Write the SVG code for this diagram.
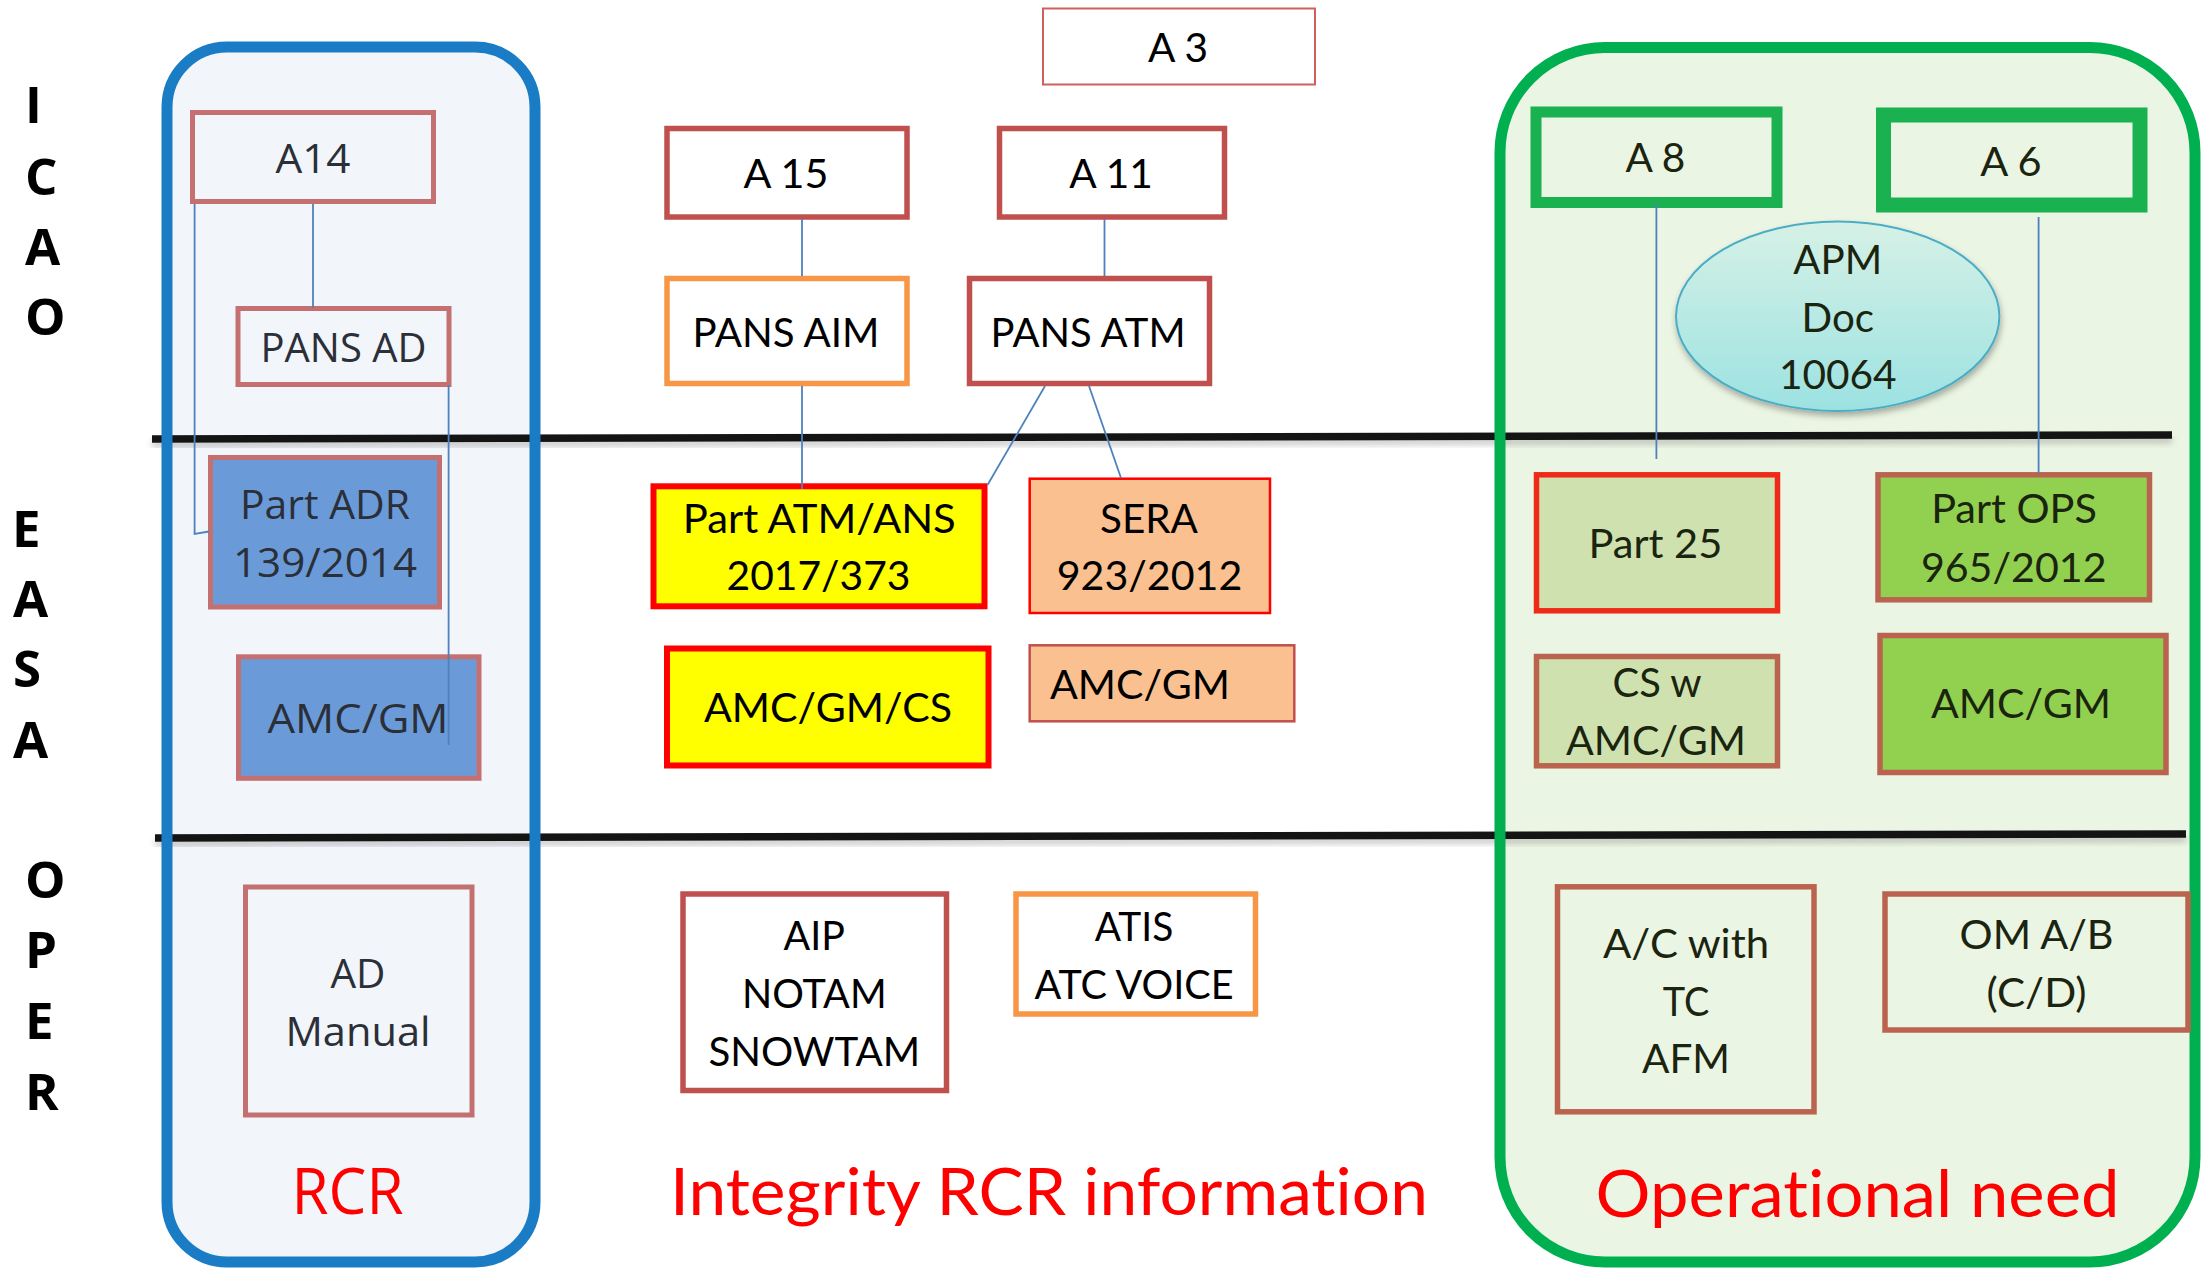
<svg xmlns="http://www.w3.org/2000/svg" width="2204" height="1268" viewBox="0 0 2204 1268">
<style>
text{font-variant-ligatures:none;font-feature-settings:"liga" 0,"clig" 0,"dlig" 0}
.lt{font-family:"Open Sans","DejaVu Sans",sans-serif;font-size:41px;fill:#2B2F38;text-anchor:middle}
.ct{font-family:Lato,"Liberation Sans",sans-serif;font-size:40px;fill:#000;text-anchor:middle}
.gt{font-family:Lato,"Liberation Sans",sans-serif;font-size:40px;fill:#1A240F;text-anchor:middle}
.side{font-family:"Open Sans","DejaVu Sans",sans-serif;font-weight:bold;font-size:51px;fill:#000}
.red{font-size:65px;fill:#FF0000}
.conn{stroke:#4F81BD;stroke-width:1.8;fill:none}
.lbox{fill:none;stroke:#C47070;stroke-width:5}
.mred{fill:#fff;stroke:#C0504D;stroke-width:5.5}
.orng{fill:#fff;stroke:#F79646;stroke-width:5.5}
.brn{stroke:#BA6450;stroke-width:5.5}
.sep{stroke:#141414;stroke-width:7.5}
.sepsh{stroke:#888;stroke-width:6;opacity:0.5}
</style>
<defs>
<linearGradient id="apmg" x1="0" y1="0" x2="0" y2="1">
<stop offset="0" stop-color="#D6F1E6"/>
<stop offset="1" stop-color="#9CE2E2"/>
</linearGradient>
<filter id="blur" x="-5%" y="-100%" width="110%" height="300%"><feGaussianBlur stdDeviation="3"/></filter>
<filter id="drop" x="-20%" y="-20%" width="140%" height="150%"><feDropShadow dx="1" dy="4" stdDeviation="3" flood-color="#000" flood-opacity="0.3"/></filter>
</defs>
<rect width="2204" height="1268" fill="#fff"/>

<g id="rcr-panel-fill">
<rect x="167" y="47" width="368" height="1215" rx="60" fill="#F2F5FA"/>
</g>
<g id="operational-panel-fill">
<rect x="1500" y="47.5" width="695" height="1214.5" rx="105" fill="#EBF5E3"/>
</g>

<g id="separators">
<line class="sepsh" x1="152" y1="444" x2="2172" y2="440" filter="url(#blur)"/>
<line class="sepsh" x1="155" y1="843" x2="2186" y2="839" filter="url(#blur)"/>
<line class="sep" x1="152" y1="439" x2="2172" y2="435"/>
<line class="sep" x1="155" y1="838" x2="2186" y2="834"/>
</g>

<g id="rcr-panel-border">
<rect x="167" y="47" width="368" height="1215" rx="60" fill="none" stroke="#1A7CC5" stroke-width="11"/>
</g>
<g id="operational-panel-border">
<rect x="1500" y="47.5" width="695" height="1214.5" rx="105" fill="none" stroke="#00B050" stroke-width="11"/>
</g>

<g id="side-labels">
<text class="side" x="25" y="123">I</text>
<text class="side" x="25" y="195">C</text>
<text class="side" x="25" y="265">A</text>
<text class="side" x="25" y="335">O</text>
<text class="side" x="12" y="547">E</text>
<text class="side" x="13" y="617">A</text>
<text class="side" x="13" y="687">S</text>
<text class="side" x="13" y="758">A</text>
<text class="side" x="25" y="898">O</text>
<text class="side" x="25" y="968">P</text>
<text class="side" x="25" y="1039">E</text>
<text class="side" x="25" y="1110">R</text>
</g>

<g id="a14"><rect class="lbox" x="192.5" y="112.5" width="241" height="89"/><text class="lt" x="313" y="173" textLength="75" lengthAdjust="spacingAndGlyphs">A14</text></g>
<g id="pans-ad"><rect class="lbox" x="238" y="308.5" width="211" height="76"/><text class="lt" x="343.5" y="362" textLength="166" lengthAdjust="spacingAndGlyphs">PANS AD</text></g>
<g id="part-adr"><rect class="lbox" x="210.5" y="457.5" width="229" height="149.5" style="fill:#6A9BD8"/><text class="lt" x="325" y="519.3" textLength="170" lengthAdjust="spacingAndGlyphs">Part ADR</text><text class="lt" x="325" y="576.7" textLength="184" lengthAdjust="spacingAndGlyphs">139/2014</text></g>
<g id="adr-amc-gm"><rect class="lbox" x="238.5" y="656.8" width="240.5" height="121.5" style="fill:#6A9BD8"/><text class="lt" x="358" y="733.3" textLength="181" lengthAdjust="spacingAndGlyphs">AMC/GM</text></g>
<g id="ad-manual"><rect class="lbox" x="245.5" y="887" width="226.5" height="228"/><text class="lt" x="358" y="988.3" textLength="55" lengthAdjust="spacingAndGlyphs">AD</text><text class="lt" x="358" y="1046" textLength="145" lengthAdjust="spacingAndGlyphs">Manual</text></g>
<g id="rcr-title"><text class="lt" x="347.5" y="1214" style="font-size:64px;fill:#FF0000" textLength="112" lengthAdjust="spacingAndGlyphs">RCR</text></g>

<g id="a3"><rect x="1043" y="8.5" width="272" height="76" fill="#fff" stroke="#D0605C" stroke-width="2"/><text class="ct" x="1178" y="61.7" style="font-size:41px" textLength="60" lengthAdjust="spacingAndGlyphs">A 3</text></g>
<g id="a15"><rect class="mred" x="667" y="128.5" width="240" height="88.5"/><text class="ct" x="786" y="187.7" textLength="85" lengthAdjust="spacingAndGlyphs">A 15</text></g>
<g id="a11"><rect class="mred" x="999.5" y="128.5" width="225" height="88.5"/><text class="ct" x="1111" y="187.7" textLength="83.6" lengthAdjust="spacingAndGlyphs">A 11</text></g>
<g id="pans-aim"><rect class="orng" x="667" y="278.5" width="240" height="105"/><text class="ct" x="786" y="346.7" textLength="187" lengthAdjust="spacingAndGlyphs">PANS AIM</text></g>
<g id="pans-atm"><rect class="mred" x="969.5" y="278.5" width="240" height="105"/><text class="ct" x="1088" y="346.7" textLength="195" lengthAdjust="spacingAndGlyphs">PANS ATM</text></g>
<g id="part-atm-ans"><rect x="653.5" y="486.3" width="331" height="120" fill="#FFFF00" stroke="#FF0000" stroke-width="6"/><text class="ct" x="819.3" y="533.3" textLength="273" lengthAdjust="spacingAndGlyphs">Part ATM/ANS</text><text class="ct" x="818.5" y="590" textLength="184" lengthAdjust="spacingAndGlyphs">2017/373</text></g>
<g id="sera"><rect x="1029.7" y="478.7" width="240.3" height="134.3" fill="#FAC090" stroke="#FF0000" stroke-width="2.5"/><text class="ct" x="1149" y="532.7" textLength="98" lengthAdjust="spacingAndGlyphs">SERA</text><text class="ct" x="1149.5" y="590" textLength="185.6" lengthAdjust="spacingAndGlyphs">923/2012</text></g>
<g id="amc-gm-cs"><rect x="667" y="648.5" width="321.5" height="117" fill="#FFFF00" stroke="#FF0000" stroke-width="6"/><text class="ct" x="828" y="721.7" textLength="248" lengthAdjust="spacingAndGlyphs">AMC/GM/CS</text></g>
<g id="sera-amc-gm"><rect x="1029.7" y="645.3" width="264.6" height="76" fill="#FAC090" stroke="#C0504D" stroke-width="2.5"/><text class="ct" x="1140" y="699.3" textLength="180" lengthAdjust="spacingAndGlyphs">AMC/GM</text></g>
<g id="aip-notam"><rect class="mred" x="683" y="894" width="263.5" height="196.5"/><text class="ct" x="814.3" y="950" textLength="61.4" lengthAdjust="spacingAndGlyphs">AIP</text><text class="ct" x="814.3" y="1007.7" textLength="144.7" lengthAdjust="spacingAndGlyphs">NOTAM</text><text class="ct" x="814.3" y="1065.7" textLength="211.8" lengthAdjust="spacingAndGlyphs">SNOWTAM</text></g>
<g id="atis"><rect class="orng" x="1016" y="894" width="239.5" height="120"/><text class="ct" x="1134" y="941" textLength="78.6" lengthAdjust="spacingAndGlyphs">ATIS</text><text class="ct" x="1134" y="999.3" textLength="199.2" lengthAdjust="spacingAndGlyphs">ATC VOICE</text></g>
<g id="integrity-title"><text class="ct red" x="1049" y="1215" textLength="758" lengthAdjust="spacingAndGlyphs">Integrity RCR information</text></g>

<g id="a8"><rect x="1536" y="112" width="241" height="90.5" fill="none" stroke="#1AB150" stroke-width="11"/><text class="gt" x="1655.4" y="172.3" textLength="60" lengthAdjust="spacingAndGlyphs">A 8</text></g>
<g id="a6"><rect x="1883.5" y="115" width="256.5" height="90" fill="none" stroke="#1AB150" stroke-width="15"/><text class="gt" x="2011" y="175.7" textLength="61.4" lengthAdjust="spacingAndGlyphs">A 6</text></g>
<g id="apm-doc"><ellipse cx="1837.7" cy="316.3" rx="161.7" ry="94.7" fill="url(#apmg)" stroke="#4BACC6" stroke-width="2" filter="url(#drop)"/><text class="gt" x="1837.8" y="274.3" textLength="89" lengthAdjust="spacingAndGlyphs">APM</text><text class="gt" x="1837.8" y="332.3" textLength="72.5" lengthAdjust="spacingAndGlyphs">Doc</text><text class="gt" x="1837.8" y="389.3" textLength="117.7" lengthAdjust="spacingAndGlyphs">10064</text></g>
<g id="part-25"><rect x="1536.5" y="474.8" width="241" height="136" fill="#CFE1AE" stroke="#EE2A1A" stroke-width="5.5"/><text class="gt" x="1655.4" y="558.3" textLength="134" lengthAdjust="spacingAndGlyphs">Part 25</text></g>
<g id="part-ops"><rect class="brn" x="1878" y="474.8" width="271.5" height="125" fill="#92D050"/><text class="gt" x="2014" y="522.7" textLength="165.7" lengthAdjust="spacingAndGlyphs">Part OPS</text><text class="gt" x="2013.7" y="581.7" textLength="185.6" lengthAdjust="spacingAndGlyphs">965/2012</text></g>
<g id="cs-amc-gm"><rect class="brn" x="1536.5" y="656.5" width="241" height="109.3" fill="#CFE1AE"/><text class="gt" x="1657" y="697.3" textLength="89" lengthAdjust="spacingAndGlyphs">CS w</text><text class="gt" x="1656" y="755" textLength="180" lengthAdjust="spacingAndGlyphs">AMC/GM</text></g>
<g id="ops-amc-gm"><rect class="brn" x="1880" y="635.5" width="286" height="137" fill="#92D050"/><text class="gt" x="2021" y="718.3" textLength="180" lengthAdjust="spacingAndGlyphs">AMC/GM</text></g>
<g id="ac-tc-afm"><rect class="brn" x="1557.5" y="886.8" width="256.5" height="225" fill="none"/><text class="gt" x="1686" y="957.7" textLength="166" lengthAdjust="spacingAndGlyphs">A/C with</text><text class="gt" x="1686" y="1015.7" textLength="46.5" lengthAdjust="spacingAndGlyphs">TC</text><text class="gt" x="1686" y="1072.7" textLength="88" lengthAdjust="spacingAndGlyphs">AFM</text></g>
<g id="om-ab"><rect class="brn" x="1885" y="894" width="303" height="136" fill="none"/><text class="gt" x="2036.6" y="949.3" textLength="154" lengthAdjust="spacingAndGlyphs">OM A/B</text><text class="gt" x="2036.6" y="1006.7" textLength="100" lengthAdjust="spacingAndGlyphs">(C/D)</text></g>
<g id="operational-title"><text class="ct red" x="1857.6" y="1216.7" textLength="524" lengthAdjust="spacingAndGlyphs">Operational need</text></g>

<g id="connectors">
<line class="conn" x1="313" y1="204" x2="313" y2="308"/>
<polyline class="conn" points="194.6,204 194.6,534 209,531.5"/>
<line class="conn" x1="448.6" y1="385" x2="448.6" y2="745"/>
<line class="conn" x1="802" y1="219" x2="802" y2="276"/>
<line class="conn" x1="802" y1="386" x2="802" y2="489"/>
<line class="conn" x1="1104.5" y1="219" x2="1104.5" y2="276"/>
<line class="conn" x1="1045" y1="386" x2="987.5" y2="485"/>
<line class="conn" x1="1089" y1="386" x2="1121" y2="478"/>
<line class="conn" x1="1656.4" y1="203" x2="1656.4" y2="459"/>
<line class="conn" x1="2038.6" y1="217" x2="2038.6" y2="474"/>
</g>
</svg>
